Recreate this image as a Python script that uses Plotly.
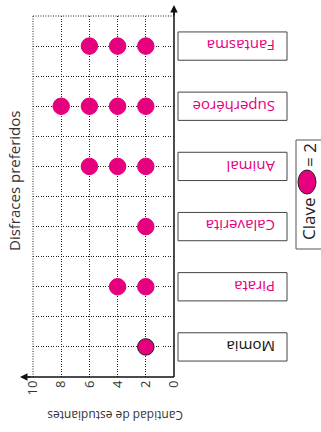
import plotly.graph_objects as go

# 資料
categorias = ['Momia', 'Pirata', 'Calaverita', 'Animal', 'Superhéroe', 'Fantasma']
estudiantes = [2, 4, 2, 6, 8, 6]
valor_clave = 2
colores_texto = ['#111111', '#e6007e', '#e6007e', '#e6007e', '#e6007e', '#e6007e']
ticks_x = [0, 2, 4, 6, 8, 10]

MAGENTA = '#e6007e'
FONT = 'Open Sans'
DOT = '1px,1.5px'

W, H = 321, 432
L, R, T, B = 33, 147, 16, 55
PW, PH = W - L - R, H - T - B


def px_x(p):
    return (p - L) / PW


def px_y(p):
    return (H - B - p) / PH


fig = go.Figure()

# 點圖：每個點代表 valor_clave 位學生
for i, (cat, n) in enumerate(zip(categorias, estudiantes)):
    xs = list(range(valor_clave, n + 1, valor_clave))
    fig.add_trace(go.Scatter(
        x=xs, y=[i] * len(xs), mode='markers',
        marker=dict(size=16.5, color=MAGENTA,
                    line=dict(color='#222' if cat == 'Momia' else MAGENTA, width=1)),
        showlegend=False, hoverinfo='skip'
    ))

# 類別標籤框（倒置文字）
for i, (cat, col) in enumerate(zip(categorias, colores_texto)):
    fig.add_shape(type='rect', xref='paper', yref='y',
                  x0=px_x(178), x1=px_x(287), y0=i - 0.235, y1=i + 0.235,
                  line=dict(color='#444', width=1), fillcolor='white')
    fig.add_annotation(x=px_x(277), y=i, xref='paper', yref='y',
                       text=cat, showarrow=False, textangle=180,
                       xanchor='right', yanchor='middle',
                       font=dict(family=FONT, size=15, color=col))

# 上緣、左緣點線
fig.add_shape(type='line', xref='paper', yref='paper', x0=0, x1=1, y0=1, y1=1,
              line=dict(color='#222', width=1, dash=DOT), layer='below')
fig.add_shape(type='line', xref='paper', yref='paper', x0=0, x1=0, y0=0, y1=1,
              line=dict(color='#222', width=1, dash=DOT), layer='below')

# 軸線 + 箭頭
fig.add_shape(type='line', xref='paper', yref='paper',
              x0=1, x1=1, y0=0, y1=px_y(10),
              line=dict(color='#111', width=1.5))
fig.add_shape(type='line', xref='paper', yref='paper',
              x0=px_x(28), x1=1, y0=0, y1=0,
              line=dict(color='#111', width=1.5))
fig.add_annotation(x=1, y=px_y(5), xref='paper', yref='paper',
                   ax=0, ay=12, axref='pixel', ayref='pixel', text='',
                   showarrow=True, arrowhead=2, arrowsize=1, arrowwidth=1.5,
                   arrowcolor='#111')
fig.add_annotation(x=px_x(20), y=0, xref='paper', yref='paper',
                   ax=12, ay=0, axref='pixel', ayref='pixel', text='',
                   showarrow=True, arrowhead=2, arrowsize=1, arrowwidth=1.5,
                   arrowcolor='#111')

# 標題
fig.add_annotation(x=px_x(14), y=px_y(181), xref='paper', yref='paper',
                   text='Disfraces preferidos', showarrow=False, textangle=-90,
                   xanchor='center', yanchor='middle',
                   font=dict(family=FONT, size=15, color='#333'))
fig.add_annotation(x=px_x(115), y=px_y(416), xref='paper', yref='paper',
                   text='Cantidad de estudiantes', showarrow=False, textangle=180,
                   xanchor='center', yanchor='middle',
                   font=dict(family=FONT, size=12, color='#333'))

# 圖例（Clave）
fig.add_shape(type='rect', xref='paper', yref='paper',
              x0=px_x(296), x1=px_x(322), y0=px_y(249), y1=px_y(140),
              line=dict(color='#555', width=1), fillcolor='white')
fig.add_shape(type='circle', xref='paper', yref='paper',
              x0=px_x(298), x1=px_x(316), y0=px_y(194), y1=px_y(170),
              line=dict(color='#222', width=1), fillcolor=MAGENTA)
fig.add_annotation(x=px_x(309), y=px_y(219), xref='paper', yref='paper',
                   text='Clave', showarrow=False, textangle=-90,
                   xanchor='center', yanchor='middle',
                   font=dict(family=FONT, size=17, color='#222'))
fig.add_annotation(x=px_x(309), y=px_y(155), xref='paper', yref='paper',
                   text=f'= {valor_clave}', showarrow=False, textangle=-90,
                   xanchor='center', yanchor='middle',
                   font=dict(family=FONT, size=17, color='#222'))

fig.update_xaxes(range=[10, 0], tickvals=ticks_x, ticktext=[str(t) for t in ticks_x],
                 tickangle=-90, showgrid=True, griddash=DOT, gridcolor='#222',
                 gridwidth=1, zeroline=False, showline=False, ticks='',
                 tickfont=dict(family=FONT, size=13, color='#333'))
fig.update_yaxes(range=[-0.5, 5.5], tickvals=[k / 2 for k in range(-1, 12)],
                 showticklabels=False, showgrid=True, griddash=DOT,
                 gridcolor='#222', gridwidth=1, zeroline=False, showline=False)

fig.update_layout(
    width=W, height=H,
    margin=dict(l=L, r=R, t=T, b=B),
    paper_bgcolor='white', plot_bgcolor='white',
    showlegend=False
)

fig.write_html('out.html', config={'displayModeBar': False},
               post_script="document.body.style.margin='0';")
